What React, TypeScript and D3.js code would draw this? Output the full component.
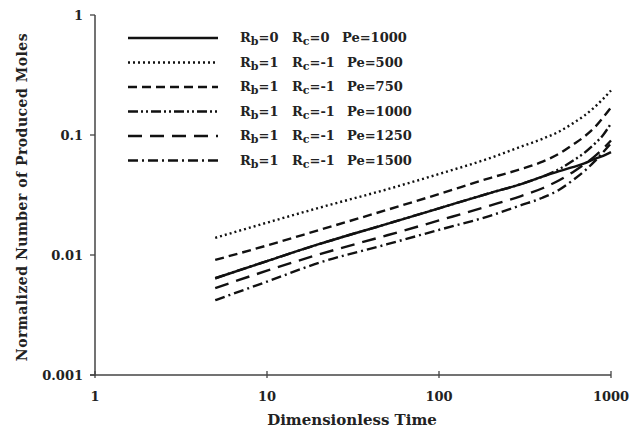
import React from "react";
import * as d3 from "d3";

const times = [5, 10, 20, 50, 100, 200, 300, 400, 500, 600, 700, 800, 900, 1000];

const rb0Pe1000 = [0.0064, 0.0089, 0.0123, 0.0182, 0.0245, 0.033, 0.039, 0.045, 0.05, 0.054, 0.058, 0.063, 0.067, 0.072];
const rb1Pe500 = [0.0139, 0.0186, 0.0247, 0.0353, 0.0473, 0.0646, 0.08, 0.093, 0.107, 0.125, 0.145, 0.17, 0.2, 0.235];
const rb1Pe750 = [0.0091, 0.012, 0.0161, 0.0238, 0.0322, 0.044, 0.052, 0.06, 0.07, 0.083, 0.097, 0.115, 0.14, 0.17];
const rb1Pe1000 = [0.0064, 0.0089, 0.0123, 0.0182, 0.0245, 0.033, 0.039, 0.045, 0.052, 0.061, 0.071, 0.084, 0.1, 0.125];
const rb1Pe1250 = [0.0053, 0.0074, 0.0101, 0.0146, 0.0194, 0.0259, 0.031, 0.036, 0.042, 0.049, 0.057, 0.066, 0.077, 0.09];
const rb1Pe1500 = [0.0042, 0.006, 0.0086, 0.0123, 0.0162, 0.0213, 0.026, 0.03, 0.035, 0.042, 0.05, 0.06, 0.072, 0.085];

const xTicks = [1, 10, 100, 1000];
const yTicks = [0.001, 0.01, 0.1, 1];
const yTickLabels = ["0.001", "0.01", "0.1", "1"];

const seriesNames = [
  { rb: "0", rc: "0", pe: "1000" },
  { rb: "1", rc: "-1", pe: "500" },
  { rb: "1", rc: "-1", pe: "750" },
  { rb: "1", rc: "-1", pe: "1000" },
  { rb: "1", rc: "-1", pe: "1250" },
  { rb: "1", rc: "-1", pe: "1500" },
];
const seriesValues = [rb0Pe1000, rb1Pe500, rb1Pe750, rb1Pe1000, rb1Pe1250, rb1Pe1500];
const dashes = ["", "2,3", "9,5", "10,3,2,3,2,3", "14,8", "10,4,2,4"];

const FONT = "'DejaVu Serif', serif";

export default function App() {
  const x = d3.scaleLog().domain([1, 1000]).range([95, 611]);
  const y = d3.scaleLog().domain([0.001, 1]).range([375, 15]);
  const line = d3
    .line<number>()
    .x((_, i) => x(times[i]))
    .y((d) => y(d))
    .curve(d3.curveMonotoneX);

  const axisColor = "#444";
  const legendX0 = 128;
  const legendX1 = 218;
  const legendY0 = 38;
  const legendDy = 24.5;

  return (
    <svg
      width={640}
      height={441}
      style={{ position: "absolute", left: 0, top: 0, background: "#fff" }}
      fontFamily={FONT}
      fontWeight="bold"
    >
      <rect x={0} y={0} width={640} height={441} fill="#fff" />
      {/* axes */}
      <line x1={x(1)} x2={x(1)} y1={y(1)} y2={y(0.001) + 1} stroke={axisColor} strokeWidth={1.5} />
      <line x1={x(1) - 5} x2={x(1000)} y1={y(0.001)} y2={y(0.001)} stroke={axisColor} strokeWidth={1.5} />
      {yTicks.map((t, i) => (
        <g key={"yt" + i}>
          <line x1={x(1) - 5} x2={x(1)} y1={y(t)} y2={y(t)} stroke={axisColor} strokeWidth={1.3} />
          <text x={x(1) - 12} y={y(t) + 5} textAnchor="end" fontSize={13} fill="#222">
            {yTickLabels[i]}
          </text>
        </g>
      ))}
      {xTicks.map((t, i) => (
        <g key={"xt" + i}>
          <line x1={x(t)} x2={x(t)} y1={y(0.001) - 4} y2={y(0.001) + 3} stroke={axisColor} strokeWidth={1.3} />
          <text x={x(t)} y={y(0.001) + 26} textAnchor="middle" fontSize={13} fill="#222">
            {String(t)}
          </text>
        </g>
      ))}
      <text x={352} y={425} textAnchor="middle" fontSize={15} fill="#222">
        Dimensionless Time
      </text>
      <text
        transform={`translate(27, 197) rotate(-90)`}
        textAnchor="middle"
        fontSize={14}
        fill="#222"
        letterSpacing={0.5}
      >
        Normalized Number of Produced Moles
      </text>

      {/* series */}
      {seriesValues.map((vals, i) => (
        <path
          key={"s" + i}
          d={line(vals) || ""}
          fill="none"
          stroke="#111"
          strokeWidth={2.4}
          strokeDasharray={dashes[i] || undefined}
          strokeLinecap="butt"
        />
      ))}

      {/* legend */}
      {seriesNames.map((s, i) => {
        const ly = legendY0 + i * legendDy;
        return (
          <g key={"lg" + i}>
            <line
              x1={legendX0}
              x2={legendX1}
              y1={ly}
              y2={ly}
              stroke="#111"
              strokeWidth={2.6}
              strokeDasharray={dashes[i] || undefined}
            />
            <text x={240} y={ly + 4} fontSize={13} fill="#222">
              R<tspan fontSize={11} dy={3}>b</tspan>
              <tspan dy={-3}>={s.rb}</tspan>
            </text>
            <text x={292} y={ly + 4} fontSize={13} fill="#222">
              R<tspan fontSize={11} dy={3}>c</tspan>
              <tspan dy={-3}>={s.rc}</tspan>
            </text>
            <text x={s.rc === "0" ? 342 : 347} y={ly + 4} fontSize={13} fill="#222">
              Pe={s.pe}
            </text>
          </g>
        );
      })}
    </svg>
  );
}
